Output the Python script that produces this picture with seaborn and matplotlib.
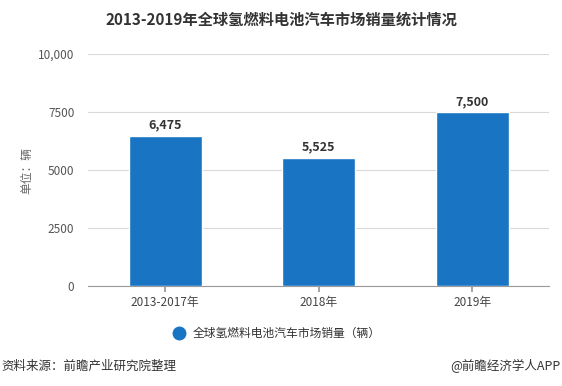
import pandas as pd
import seaborn as sns
import matplotlib.pyplot as plt

# datos
categorias = ["2013-2017年", "2018年", "2019年"]
ventas = [6475, 5525, 7500]
yticks = [0, 2500, 5000, 7500, 10000]
ytick_labels = ["0", "2500", "5000", "7500", "10,000"]

df = pd.DataFrame({"periodo": categorias, "ventas": ventas})

sns.set_theme(style="white")
plt.rcParams["font.family"] = ["Noto Sans CJK SC", "DejaVu Sans"]

fig = plt.figure(figsize=(5.62, 3.86), dpi=100)
ax = fig.add_axes([0.157, 0.259, 0.82, 0.601])

color = "#1a74c4"
sns.barplot(data=df, x="periodo", y="ventas", color=color, width=0.475,
            saturation=1, ax=ax, zorder=3)

ax.set_ylim(0, 10000)
ax.set_xlim(-0.5, 2.5)
ax.set_yticks(yticks)
ax.set_yticklabels(ytick_labels)
ax.yaxis.grid(True, color="#d9d9d9", linewidth=0.8, zorder=0)
ax.tick_params(axis="y", length=0, labelsize=8.5, labelcolor="#555555", pad=10)
ax.tick_params(axis="x", length=4, color="#999999", labelsize=8.5,
               labelcolor="#444444", bottom=True)
for s in ["top", "right", "left"]:
    ax.spines[s].set_visible(False)
ax.spines["bottom"].set_color("#999999")
ax.spines["bottom"].set_linewidth(0.8)
ax.set_xlabel("")
ax.set_ylabel("单位：辆", fontsize=8.5, color="#666666")
ax.yaxis.set_label_coords(-0.12, 0.5)

for i, v in enumerate(ventas):
    ax.annotate(f"{v:,}", (i, v), xytext=(0, 3), textcoords="offset points",
                ha="center", va="bottom", fontsize=9, fontweight="bold",
                color="#333333")

fig.text(0.5, 0.948, "2013-2019年全球氢燃料电池汽车市场销量统计情况",
         ha="center", va="center", fontsize=11, fontweight="bold",
         color="#333333")

# leyenda
fig.lines.append(plt.Line2D([0.319], [1 - 333 / 386], marker="o",
                            markersize=9, color=color, linestyle="",
                            transform=fig.transFigure))
fig.text(0.343, 1 - 333 / 386, "全球氢燃料电池汽车市场销量（辆）",
         ha="left", va="center", fontsize=8.5, color="#333333")

fig.text(0.002, 1 - 366 / 386, "资料来源：前瞻产业研究院整理",
         ha="left", va="center", fontsize=9, color="#333333")
fig.text(0.998, 1 - 366 / 386, "@前瞻经济学人APP",
         ha="right", va="center", fontsize=9, color="#333333")

fig.savefig("out.png", dpi=100)
